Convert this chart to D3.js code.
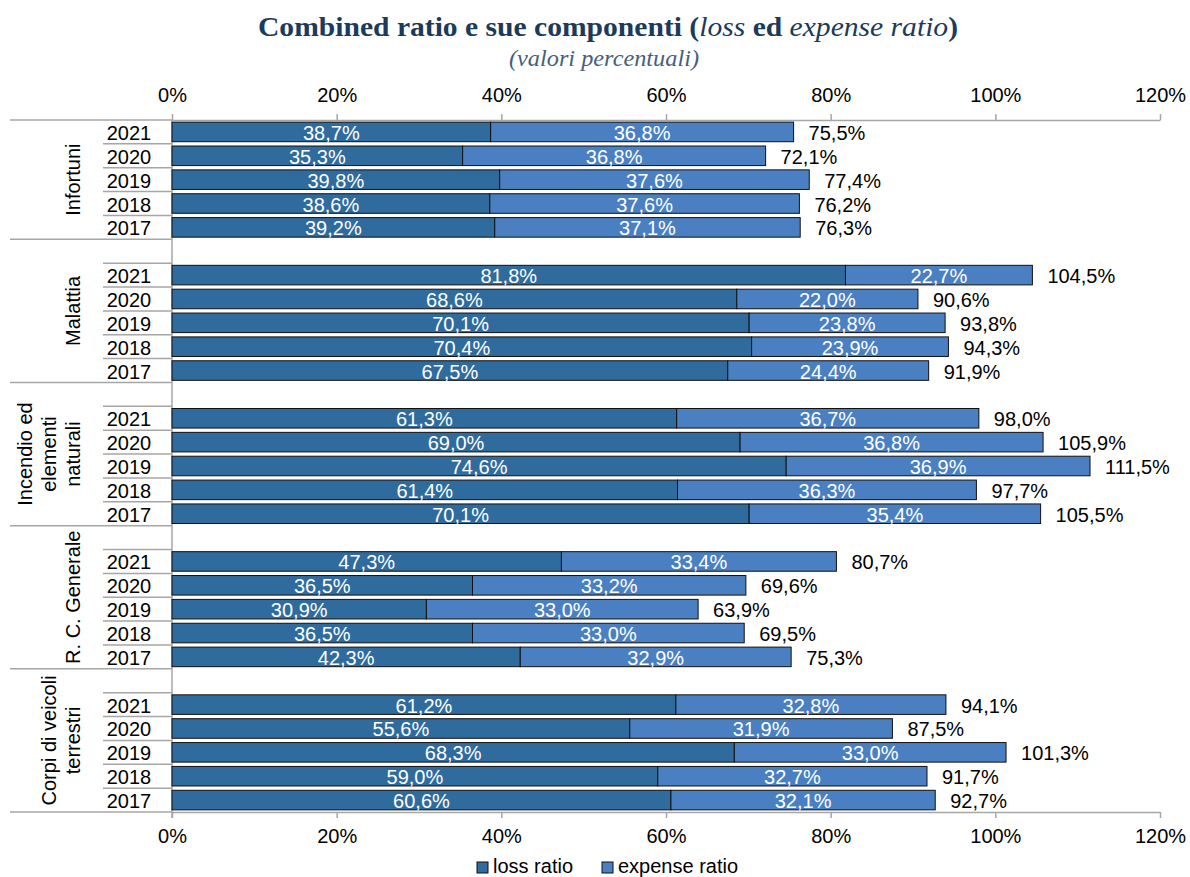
<!DOCTYPE html>
<html>
<head>
<meta charset="utf-8">
<script src="https://cdn.jsdelivr.net/npm/d3@7"></script>
<style>
  body { margin: 0; background: #fff; }
  text { font-family: "Liberation Sans", Arial, sans-serif; }
</style>
</head>
<body>
<div id="chart"></div>
<script>
const groups = ["Infortuni", "Malattia", "Incendio ed\nelementi\nnaturali", "R. C. Generale", "Corpi di veicoli\nterrestri"];
const years = ["2021", "2020", "2019", "2018", "2017"];
const lossRatio = [
  [38.7, 35.3, 39.8, 38.6, 39.2],
  [81.8, 68.6, 70.1, 70.4, 67.5],
  [61.3, 69.0, 74.6, 61.4, 70.1],
  [47.3, 36.5, 30.9, 36.5, 42.3],
  [61.2, 55.6, 68.3, 59.0, 60.6]
];
const expenseRatio = [
  [36.8, 36.8, 37.6, 37.6, 37.1],
  [22.7, 22.0, 23.8, 23.9, 24.4],
  [36.7, 36.8, 36.9, 36.3, 35.4],
  [33.4, 33.2, 33.0, 33.0, 32.9],
  [32.8, 31.9, 33.0, 32.7, 32.1]
];
const combinedRatio = [
  [75.5, 72.1, 77.4, 76.2, 76.3],
  [104.5, 90.6, 93.8, 94.3, 91.9],
  [98.0, 105.9, 111.5, 97.7, 105.5],
  [80.7, 69.6, 63.9, 69.5, 75.3],
  [94.1, 87.5, 101.3, 91.7, 92.7]
];
const xTicks = [0, 20, 40, 60, 80, 100, 120];
const seriesNames = ["loss ratio", "expense ratio"];

const width = 1190, height = 877;
const plotTop = 120, plotBottom = 812, plotLeft = 172, plotRight = 1160;
const lossColor = "#2f6b9d", expenseColor = "#4a80c1", axisColor = "#a6a6a6";
const fmt = v => v.toFixed(1).replace(".", ",") + "%";

// one slot per year, plus an empty slot in front of every group but the first
const rows = [];
const slots = [];
groups.forEach((g, gi) => {
  if (gi > 0) slots.push(gi + "|blank");
  years.forEach((yr, yi) => {
    const key = gi + "|" + yr;
    slots.push(key);
    rows.push({ key, gi, yi, year: yr, loss: lossRatio[gi][yi], expense: expenseRatio[gi][yi], total: combinedRatio[gi][yi] });
  });
});

const pad = 0.18;
const y = d3.scaleBand().domain(slots).range([plotTop, plotBottom]).paddingInner(pad).paddingOuter(pad / 2);
const x = d3.scaleLinear().domain([0, 120]).range([plotLeft, plotRight]);
const slotTop = k => y(k) - y.step() * pad / 2;

const svg = d3.select("#chart").append("svg")
  .attr("width", width)
  .attr("height", height);

// titles
const title = svg.append("text")
  .attr("x", 608).attr("y", 36)
  .attr("text-anchor", "middle")
  .attr("textLength", 700).attr("lengthAdjust", "spacingAndGlyphs")
  .style("font-family", "'Liberation Serif', 'DejaVu Serif', serif")
  .style("font-size", "28px")
  .style("font-weight", "bold")
  .attr("fill", "#1b3a5c");
title.append("tspan").text("Combined ratio e sue componenti (");
title.append("tspan").style("font-style", "italic").style("font-weight", "normal").text("loss");
title.append("tspan").text(" ed ");
title.append("tspan").style("font-style", "italic").style("font-weight", "normal").text("expense ratio");
title.append("tspan").text(")");

svg.append("text")
  .attr("x", 604).attr("y", 66)
  .attr("text-anchor", "middle")
  .attr("textLength", 190).attr("lengthAdjust", "spacingAndGlyphs")
  .style("font-family", "'Liberation Serif', 'DejaVu Serif', serif")
  .style("font-size", "23px")
  .style("font-style", "italic")
  .attr("fill", "#44607e")
  .text("(valori percentuali)");

// axes
const styleAxis = g => {
  g.select(".domain").attr("stroke", axisColor).attr("stroke-width", 1.5);
  g.selectAll(".tick line").attr("stroke", axisColor).attr("stroke-width", 1.5);
  g.selectAll(".tick text").attr("fill", "#000").style("font-size", "20px")
    .style("font-family", "'Liberation Sans', Arial, sans-serif");
};

svg.append("g")
  .attr("transform", `translate(0,${plotTop})`)
  .call(d3.axisTop(x).tickValues(xTicks).tickFormat(d => d + "%").tickSize(6).tickSizeOuter(0).tickPadding(12))
  .call(styleAxis);

svg.append("g")
  .attr("transform", `translate(0,${plotBottom})`)
  .call(d3.axisBottom(x).tickValues(xTicks).tickFormat(d => d + "%").tickSize(6).tickSizeOuter(0).tickPadding(11))
  .call(styleAxis);

// category axis lines
const catLines = svg.append("g").attr("stroke", axisColor).attr("stroke-width", 1.5);
catLines.append("line").attr("x1", 10).attr("x2", plotLeft).attr("y1", plotTop).attr("y2", plotTop);
catLines.append("line").attr("x1", 10).attr("x2", plotLeft).attr("y1", plotBottom).attr("y2", plotBottom);
catLines.append("line").attr("x1", plotLeft).attr("x2", plotLeft).attr("y1", plotTop).attr("y2", plotBottom + 6);

rows.forEach(r => {
  if (r.gi === 0 && r.yi === 0) return;
  catLines.append("line").attr("x1", 103).attr("x2", plotLeft)
    .attr("y1", slotTop(r.key)).attr("y2", slotTop(r.key));
});
groups.forEach((g, gi) => {
  if (gi === 0) return;
  const yy = slotTop(gi + "|blank");
  catLines.append("line").attr("x1", 10).attr("x2", plotLeft).attr("y1", yy).attr("y2", yy);
});

// year labels
svg.append("g").selectAll("text")
  .data(rows)
  .join("text")
  .attr("x", 129)
  .attr("y", d => y(d.key) + y.bandwidth() / 2 + 8)
  .attr("text-anchor", "middle")
  .style("font-size", "20px")
  .text(d => d.year);

// group labels
groups.forEach((g, gi) => {
  const first = gi === 0 ? gi + "|" + years[0] : gi + "|blank";
  const last = gi + "|" + years[years.length - 1];
  const cy = (slotTop(first) + slotTop(last) + y.step()) / 2;
  const lines = g.split("\n");
  lines.forEach((ln, li) => {
    const bx = 80 - (lines.length - 1 - li) * 24;
    svg.append("text")
      .attr("transform", `translate(${bx},${cy}) rotate(-90)`)
      .attr("text-anchor", "middle")
      .style("font-size", "20px")
      .text(ln);
  });
});

// bars
const bars = svg.append("g");
bars.selectAll("rect.loss")
  .data(rows)
  .join("rect")
  .attr("class", "loss")
  .attr("x", x(0))
  .attr("y", d => y(d.key))
  .attr("width", d => x(d.loss) - x(0))
  .attr("height", y.bandwidth())
  .attr("fill", lossColor)
  .attr("stroke", "#111")
  .attr("stroke-width", 1);

bars.selectAll("rect.expense")
  .data(rows)
  .join("rect")
  .attr("class", "expense")
  .attr("x", d => x(d.loss))
  .attr("y", d => y(d.key))
  .attr("width", d => x(d.loss + d.expense) - x(d.loss))
  .attr("height", y.bandwidth())
  .attr("fill", expenseColor)
  .attr("stroke", "#111")
  .attr("stroke-width", 1);

// labels inside bars
const labels = svg.append("g").style("font-size", "20px");
labels.selectAll("text.l")
  .data(rows)
  .join("text")
  .attr("class", "l")
  .attr("x", d => (x(0) + x(d.loss)) / 2)
  .attr("y", d => y(d.key) + y.bandwidth() / 2 + 8)
  .attr("text-anchor", "middle")
  .attr("fill", "#fff")
  .text(d => fmt(d.loss));

labels.selectAll("text.e")
  .data(rows)
  .join("text")
  .attr("class", "e")
  .attr("x", d => (x(d.loss) + x(d.loss + d.expense)) / 2)
  .attr("y", d => y(d.key) + y.bandwidth() / 2 + 8)
  .attr("text-anchor", "middle")
  .attr("fill", "#fff")
  .text(d => fmt(d.expense));

labels.selectAll("text.t")
  .data(rows)
  .join("text")
  .attr("class", "t")
  .attr("x", d => x(d.loss + d.expense) + 15)
  .attr("y", d => y(d.key) + y.bandwidth() / 2 + 8)
  .attr("fill", "#000")
  .text(d => fmt(d.total));

// legend
const legendX = [477, 602];
const legend = svg.append("g");
seriesNames.forEach((name, i) => {
  legend.append("rect")
    .attr("x", legendX[i]).attr("y", 862)
    .attr("width", 11).attr("height", 11)
    .attr("fill", i === 0 ? lossColor : expenseColor)
    .attr("stroke", "#111").attr("stroke-width", 1);
  legend.append("text")
    .attr("x", legendX[i] + 16).attr("y", 873)
    .style("font-size", "20px")
    .text(name);
});
</script>
</body>
</html>
